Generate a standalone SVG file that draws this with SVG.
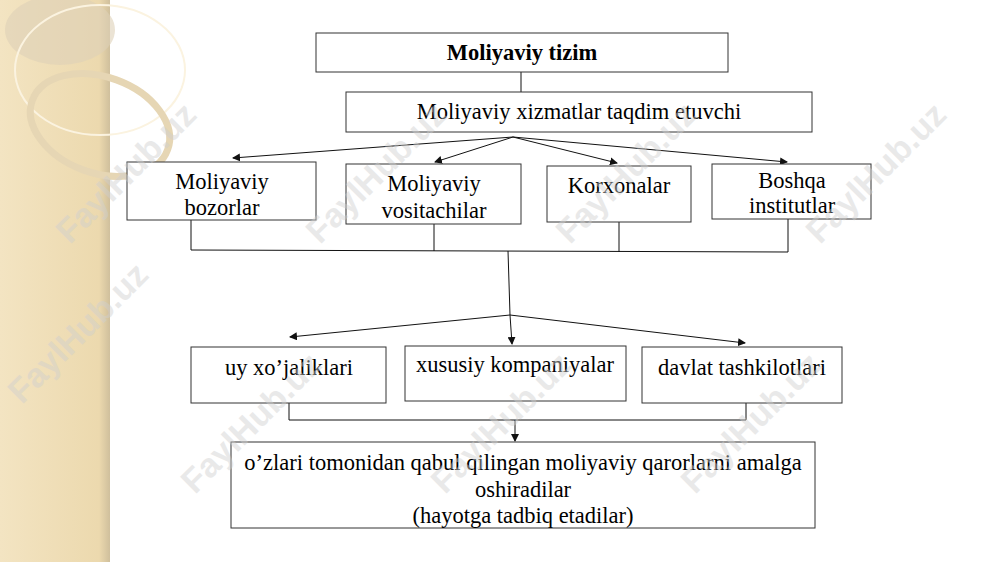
<svg xmlns="http://www.w3.org/2000/svg" width="1000" height="562" viewBox="0 0 1000 562">
<defs>
<style>
.b{fill:#fff;stroke:#333;stroke-width:1}
.t{font-family:"Liberation Serif",serif;font-size:22.5px;fill:#000;text-anchor:middle}
.c{stroke:#111;stroke-width:1;fill:none}
.w{font-family:"Liberation Sans",sans-serif;font-weight:bold;font-size:34px;fill:#cfcfcf;opacity:0.45}
</style>
<marker id="a" markerWidth="8" markerHeight="8" refX="7" refY="4" orient="auto" markerUnits="userSpaceOnUse"><path d="M0,0 L8,4 L0,8 z" fill="#111"/></marker>
<linearGradient id="g" x1="0" x2="1"><stop offset="0" stop-color="#f3e4c2"/><stop offset="0.9" stop-color="#ecd9ae"/><stop offset="1" stop-color="#cfbf9c"/></linearGradient>
</defs>
<rect width="1000" height="562" fill="#fff"/>
<rect width="110" height="562" fill="url(#g)"/>
<ellipse cx="60" cy="30" rx="55" ry="35" fill="#ddd0b8" opacity="0.6"/>
<ellipse cx="100" cy="70" rx="85" ry="65" fill="none" stroke="#fbf3e0" stroke-width="2"/>
<ellipse cx="100" cy="125" rx="72" ry="48" fill="none" stroke="#e6d6b4" stroke-width="7" transform="rotate(20 100 125)"/>
<g id="connectors">
<line class="c" x1="521" y1="72" x2="521" y2="92"/>
<line class="c" x1="513" y1="137" x2="233" y2="158" marker-end="url(#a)"/>
<line class="c" x1="513" y1="137" x2="435" y2="162" marker-end="url(#a)"/>
<line class="c" x1="513" y1="137" x2="617" y2="163" marker-end="url(#a)"/>
<line class="c" x1="513" y1="137" x2="787" y2="162" marker-end="url(#a)"/>
<polyline class="c" points="191,220 191,250 788,252 788,219"/>
<line class="c" x1="434" y1="224" x2="434" y2="251"/>
<line class="c" x1="619" y1="222" x2="619" y2="252"/>
<line class="c" x1="508" y1="251" x2="510" y2="315"/>
<line class="c" x1="510" y1="315" x2="290" y2="337" marker-end="url(#a)"/>
<line class="c" x1="510" y1="315" x2="512" y2="344" marker-end="url(#a)"/>
<line class="c" x1="510" y1="315" x2="745" y2="343" marker-end="url(#a)"/>
<polyline class="c" points="289,403 289,420 746,420 746,403"/>
<line class="c" x1="515" y1="420" x2="515" y2="441" marker-end="url(#a)"/>
</g>
<g id="n-top"><rect class="b" x="316" y="33" width="412" height="39"/><text class="t" x="522" y="60" font-weight="bold">Moliyaviy tizim</text></g>
<g id="n-xizmat"><rect class="b" x="346" y="92" width="466" height="40"/><text class="t" x="579" y="119">Moliyaviy xizmatlar taqdim etuvchi</text></g>
<g id="n-bozor"><rect class="b" x="127" y="162" width="189" height="58"/><text class="t" x="222" y="189">Moliyaviy</text><text class="t" x="222" y="215">bozorlar</text></g>
<g id="n-vosita"><rect class="b" x="346" y="164" width="175" height="60"/><text class="t" x="434" y="191">Moliyaviy</text><text class="t" x="434" y="218">vositachilar</text></g>
<g id="n-korxona"><rect class="b" x="547" y="166" width="144" height="56"/><text class="t" x="619" y="193">Korxonalar</text></g>
<g id="n-boshqa"><rect class="b" x="712" y="164" width="159" height="55"/><text class="t" x="792" y="188" font-size="18">Boshqa</text><text class="t" x="792" y="213" font-size="19">institutlar</text></g>
<g id="n-uy"><rect class="b" x="191" y="347" width="195" height="56"/><text class="t" x="289" y="375">uy xo’jaliklari</text></g>
<g id="n-xususiy"><rect class="b" x="405" y="346" width="221" height="55"/><text class="t" x="515" y="372">xususiy kompaniyalar</text></g>
<g id="n-davlat"><rect class="b" x="642" y="347" width="200" height="56"/><text class="t" x="742" y="375">davlat tashkilotlari</text></g>
<g id="n-bottom"><rect class="b" x="231" y="442" width="584" height="86"/>
<text class="t" x="523" y="470">o’zlari tomonidan qabul qilingan moliyaviy qarorlarni amalga</text>
<text class="t" x="523" y="497">oshiradilar</text>
<text class="t" x="523" y="523">(hayotga tadbiq etadilar)</text></g>
<g id="watermarks">
<text class="w" transform="translate(70,245) rotate(-45)">FaylHub.uz</text>
<text class="w" transform="translate(320,245) rotate(-45)">FaylHub.uz</text>
<text class="w" transform="translate(570,245) rotate(-45)">FaylHub.uz</text>
<text class="w" transform="translate(820,245) rotate(-45)">FaylHub.uz</text>
<text class="w" transform="translate(22,405) rotate(-45)">FaylHub.uz</text>
<text class="w" transform="translate(195,495) rotate(-45)">FaylHub.uz</text>
<text class="w" transform="translate(445,495) rotate(-45)">FaylHub.uz</text>
<text class="w" transform="translate(695,495) rotate(-45)">FaylHub.uz</text>
</g>
</svg>
